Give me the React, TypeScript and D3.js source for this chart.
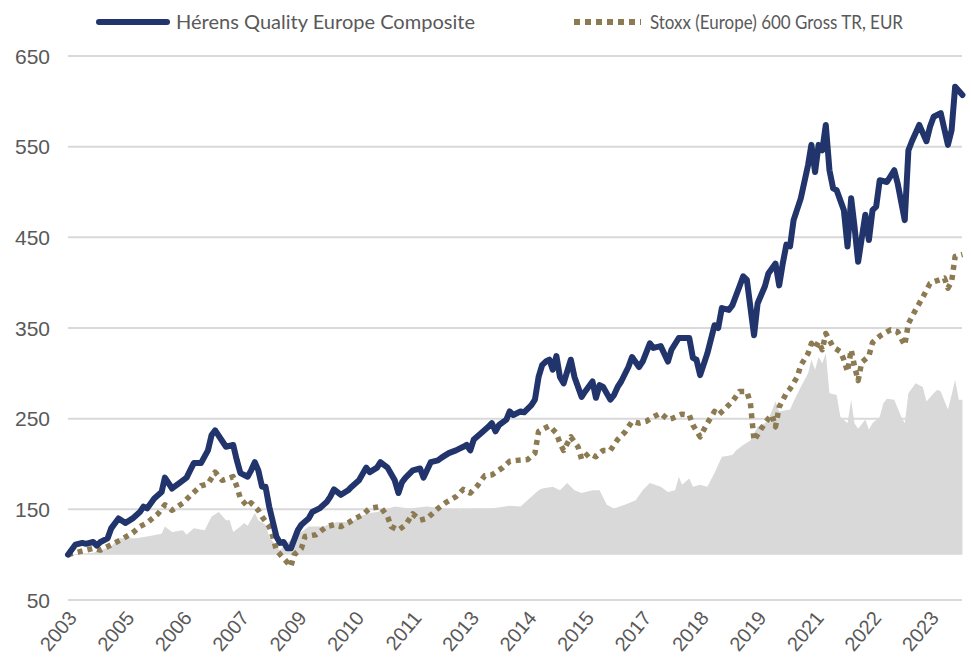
import React, { useEffect, useRef } from "react";
import * as d3 from "d3";

// months counted from Dec 2003 (index 100 at start)
const START = new Date(2003, 11, 1);

const herensMonths = [0, 2, 4, 5, 7, 8, 9, 11, 12, 14, 16, 18, 20, 21, 22, 24, 26, 27, 29, 31, 33, 34, 35, 37, 39, 40, 41, 44, 46, 47, 48, 50, 51, 52, 53, 54, 55, 56, 58, 59, 60, 61, 62, 64, 65, 67, 68, 70, 72, 73, 74, 76, 78, 79, 81, 83, 84, 86, 87, 89, 91, 92, 93, 94, 96, 98, 99, 101, 103, 104, 106, 108, 110, 111, 112, 113, 115, 117, 118, 119, 120, 122, 123, 124, 126, 127, 129, 130, 131, 132, 133, 134, 135, 136, 137, 138, 139, 140, 141, 143, 144, 146, 147, 148, 149, 151, 152, 153, 154, 156, 157, 159, 160, 162, 163, 165, 167, 168, 170, 173, 174, 175, 176, 178, 180, 181, 182, 184, 185, 187, 188, 189, 191, 192, 194, 195, 197, 198, 199, 200, 201, 202, 204, 206, 207, 208, 209, 210, 211, 212, 213, 214, 216, 217, 218, 219, 220, 222, 223, 224, 225, 226, 228, 230, 231, 233, 234, 235, 237, 239, 240, 241, 243, 245, 246, 247, 249];
const herensValues = [100, 111, 113, 112, 114, 110, 114, 118, 129, 140, 135, 140, 147, 153, 151, 162, 169, 185, 173, 179, 185, 193, 201, 201, 215, 232, 237, 219, 221, 204, 190, 186, 193, 202, 193, 175, 175, 153, 120, 113, 114, 107, 107, 127, 133, 140, 147, 151, 158, 164, 172, 166, 171, 175, 182, 196, 191, 196, 202, 196, 182, 168, 180, 185, 193, 195, 185, 202, 204, 207, 212, 215, 219, 221, 215, 227, 234, 241, 245, 236, 243, 249, 258, 254, 258, 257, 265, 271, 296, 309, 313, 315, 304, 319, 296, 289, 302, 315, 296, 274, 280, 291, 273, 287, 285, 271, 276, 285, 291, 307, 318, 307, 313, 333, 328, 330, 313, 326, 339, 339, 317, 315, 298, 322, 353, 350, 372, 370, 375, 396, 407, 403, 342, 377, 396, 410, 421, 397, 421, 442, 440, 469, 493, 530, 552, 522, 552, 546, 574, 524, 504, 502, 480, 440, 493, 462, 423, 475, 447, 480, 484, 513, 511, 524, 510, 469, 546, 556, 574, 556, 572, 583, 587, 552, 568, 616, 607];

const stoxxMonths = [0, 3, 7, 9, 13, 15, 18, 20, 22, 25, 27, 29, 32, 34, 37, 39, 41, 43, 46, 47, 48, 50, 51, 53, 54, 56, 57, 58, 60, 62, 63, 65, 66, 69, 72, 74, 76, 78, 80, 82, 84, 87, 89, 90, 92, 94, 96, 98, 100, 103, 105, 108, 110, 112, 114, 116, 118, 121, 123, 125, 128, 130, 131, 134, 136, 137, 138, 140, 142, 143, 145, 147, 149, 151, 153, 155, 157, 159, 161, 163, 165, 167, 168, 171, 173, 174, 176, 178, 180, 181, 183, 185, 187, 189, 190, 191, 193, 195, 196, 197, 198, 200, 201, 203, 204, 206, 207, 208, 209, 210, 211, 213, 215, 216, 217, 218, 219, 220, 221, 223, 224, 226, 229, 231, 233, 234, 236, 238, 240, 241, 244, 245, 246, 247, 249];
const stoxxValues = [100, 103, 107, 105, 113, 117, 124, 131, 135, 145, 155, 149, 157, 165, 176, 178, 191, 182, 186, 175, 162, 153, 157, 149, 142, 131, 120, 105, 96, 87, 100, 107, 120, 122, 131, 133, 131, 135, 140, 144, 151, 153, 142, 131, 127, 133, 145, 138, 140, 151, 157, 164, 172, 168, 176, 187, 188, 196, 203, 204, 205, 212, 236, 242, 234, 223, 215, 230, 219, 205, 212, 208, 215, 215, 227, 235, 247, 245, 247, 252, 256, 249, 250, 255, 254, 243, 230, 245, 258, 254, 261, 269, 280, 280, 267, 226, 239, 250, 254, 241, 263, 278, 283, 296, 309, 322, 333, 328, 335, 326, 344, 329, 324, 315, 302, 326, 308, 292, 312, 319, 334, 341, 348, 346, 331, 355, 370, 384, 399, 401, 405, 394, 401, 429, 431];

// relative performance band, drawn from the 100 baseline
const spreadMonths = [0, 7, 12, 14, 19, 22, 26, 27, 29, 32, 33, 35, 38, 40, 42, 44, 45, 46, 48, 49, 50, 52, 53, 55, 56, 58, 59, 61, 63, 65, 67, 71, 75, 79, 81, 84, 86, 91, 95, 100, 104, 109, 114, 118, 123, 126, 129, 131, 132, 135, 137, 139, 141, 143, 146, 148, 150, 152, 155, 158, 160, 162, 165, 167, 169, 170, 171, 173, 174, 176, 178, 180, 182, 185, 186, 188, 190, 192, 194, 195, 197, 198, 201, 202, 204, 206, 207, 208, 209, 210, 211, 212, 214, 215, 217, 218, 219, 220, 222, 223, 224, 226, 227, 228, 230, 232, 233, 234, 236, 238, 239, 241, 242, 243, 245, 246, 247, 248, 249];
const spreadValues = [100, 102, 109, 118, 118, 120, 123, 131, 125, 127, 122, 129, 127, 142, 147, 138, 138, 125, 131, 135, 132, 146, 138, 133, 120, 109, 105, 113, 120, 125, 131, 131, 136, 136, 142, 146, 147, 153, 151, 153, 151, 149, 151, 151, 154, 153, 164, 171, 173, 175, 171, 179, 171, 168, 171, 171, 155, 151, 155, 160, 171, 179, 175, 169, 171, 186, 177, 184, 175, 177, 175, 190, 208, 210, 215, 221, 226, 241, 245, 249, 269, 258, 260, 269, 285, 300, 315, 304, 318, 311, 322, 278, 276, 252, 245, 271, 245, 239, 249, 238, 245, 252, 267, 272, 271, 252, 245, 278, 289, 285, 269, 278, 282, 280, 260, 276, 293, 271, 271];

const yTicks = [50, 150, 250, 350, 450, 550, 650];
const tickMonths = d3.range(0, 241, 16);

const seriesNames = ["Hérens Quality Europe Composite", "Stoxx (Europe) 600 Gross TR, EUR"];
const NAVY = "#21346b";
const GOLD = "#8c7a52";
const GREY = "#d9d9d9";
const TEXT = "#595959";

const toDate = (m: number) => d3.timeMonth.offset(START, m);

const x = d3
  .scaleTime()
  .domain([toDate(0), toDate(240)])
  .range([68, 930]);
const y = d3.scaleLinear().domain([50, 650]).range([600, 56]);

export default function App() {
  const width = 971;
  const height = 669;
  const axisRef = useRef<SVGGElement>(null);

  useEffect(() => {
    const g = d3.select(axisRef.current);
    g.selectAll("*").remove();
    const axis = d3
      .axisBottom(x)
      .tickValues(tickMonths.map(toDate))
      .tickFormat(d3.timeFormat("%Y") as any)
      .tickSize(0);
    g.call(axis);
    g.select(".domain").remove();
    g.selectAll("text")
      .attr("font-family", "'Liberation Sans', Arial, sans-serif")
      .attr("font-size", 20)
      .attr("fill", TEXT)
      .attr("text-anchor", "end")
      .attr("x", 0)
      .attr("y", 0)
      .attr("dy", "0.35em")
      .attr("transform", "translate(4,2) rotate(-50)");
  }, []);

  const herens = herensMonths.map((m, i) => ({ d: toDate(m), v: herensValues[i] }));
  const stoxx = stoxxMonths.map((m, i) => ({ d: toDate(m), v: stoxxValues[i] }));
  const spread = spreadMonths.map((m, i) => ({ d: toDate(m), v: spreadValues[i] }));

  const line = d3
    .line<{ d: Date; v: number }>()
    .x((p) => x(p.d))
    .y((p) => y(p.v));
  const area = d3
    .area<{ d: Date; v: number }>()
    .x((p) => x(p.d))
    .y0(y(100))
    .y1((p) => y(p.v));

  const font = "'Liberation Sans', Arial, sans-serif";

  return (
    <div style={{ position: "absolute", left: 0, top: 0 }}>
      <svg width={width} height={height} style={{ display: "block", background: "#fff" }}>
        {yTicks.map((t) => (
          <g key={t}>
            <line x1={68} x2={962} y1={y(t)} y2={y(t)} stroke={GREY} strokeWidth={2} />
            <text x={50} y={y(t)} dy="0.36em" textAnchor="end" fontFamily={font} fontSize={21} fill={TEXT}>
              {t}
            </text>
          </g>
        ))}

        <path d={area(spread) || ""} fill={GREY} />

        <path
          d={line(stoxx) || ""}
          fill="none"
          stroke={GOLD}
          strokeWidth={5.5}
          strokeDasharray="5 5"
          strokeLinejoin="round"
        />
        <path d={line(herens) || ""} fill="none" stroke={NAVY} strokeWidth={6} strokeLinejoin="round" strokeLinecap="round" />

        <g ref={axisRef} transform="translate(0,612)" />

        <g fontFamily="Lato, 'Open Sans', sans-serif" fontSize={19} fill={TEXT}>
          <line x1={99} x2={167} y1={22} y2={22} stroke={NAVY} strokeWidth={6} strokeLinecap="round" />
          <text x={176} y={22} dy="0.35em" textLength={299} lengthAdjust="spacingAndGlyphs">
            {seriesNames[0]}
          </text>
          <line x1={574} x2={641} y1={22} y2={22} stroke={GOLD} strokeWidth={6} strokeDasharray="6 5" />
          <text x={650} y={22} dy="0.35em" textLength={253} lengthAdjust="spacingAndGlyphs">
            {seriesNames[1]}
          </text>
        </g>
      </svg>
    </div>
  );
}
